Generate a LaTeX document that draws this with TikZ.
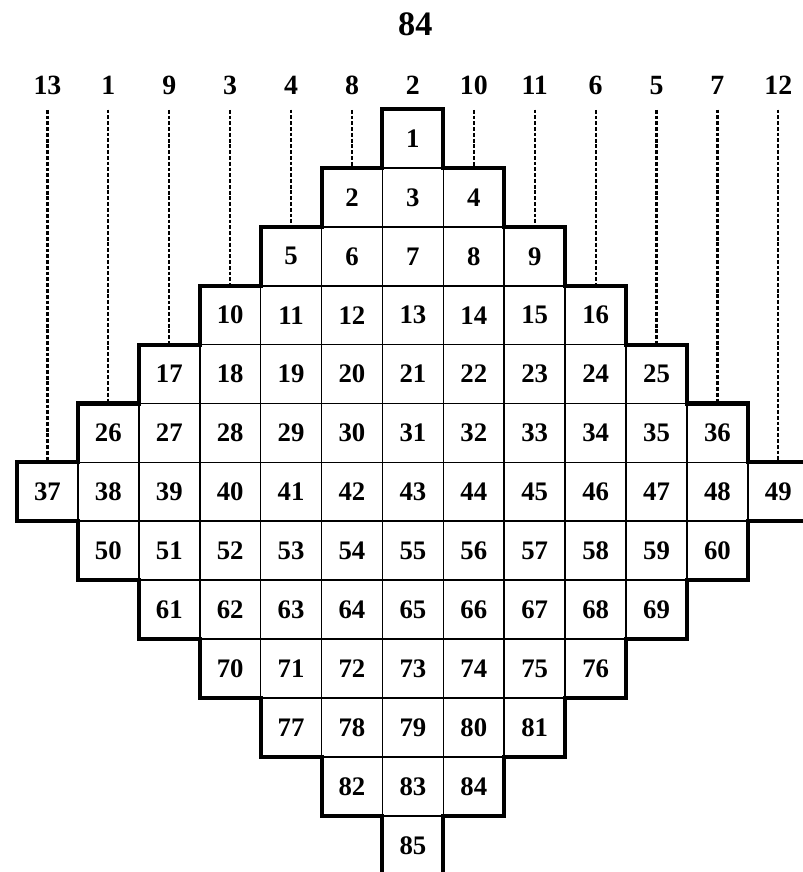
\documentclass[tikz,border=0pt]{standalone}
\usepackage{fontspec}
\setmainfont{Liberation Serif}
\usetikzlibrary{positioning}

\tikzset{
  cell/.style={draw, line width=0.8pt, inner sep=0pt, minimum width=1cm, minimum height=0.967cm, font=\fontsize{12.5}{14}\selectfont\bfseries},
  lab/.style={inner sep=0pt, anchor=base, font=\fontsize{13}{15}\selectfont\bfseries},
  pagenum/.style={inner sep=0pt, anchor=base, font=\fontsize{16}{18}\selectfont\bfseries},
  rim/.style={line width=1.9pt},
  guide/.style={line width=1pt, dash pattern=on 1.8pt off 0.9pt, shorten <=6.8pt}
}

\begin{document}
\begin{tikzpicture}[x=1cm, y=0.967cm]
\useasboundingbox (-0.279,1.851) rectangle (12.89,-12.954);
\node[pagenum] (title) at (6.54,1.24) {84};
% column numbers
\node[lab] (col0) at (0.5,0.246) {13};
\node[lab] (col1) at (1.5,0.246) {1};
\node[lab] (col2) at (2.5,0.246) {9};
\node[lab] (col3) at (3.5,0.246) {3};
\node[lab] (col4) at (4.5,0.246) {4};
\node[lab] (col5) at (5.5,0.246) {8};
\node[lab] (col6) at (6.5,0.246) {2};
\node[lab] (col7) at (7.5,0.246) {10};
\node[lab] (col8) at (8.5,0.246) {11};
\node[lab] (col9) at (9.5,0.246) {6};
\node[lab] (col10) at (10.5,0.246) {5};
\node[lab] (col11) at (11.5,0.246) {7};
\node[lab] (col12) at (12.5,0.246) {12};
% squares
\node[cell] (c1) at (6.5,-0.5) {1};
\node[cell] (c2) at (5.5,-1.5) {2};
\node[cell] (c3) at (6.5,-1.5) {3};
\node[cell] (c4) at (7.5,-1.5) {4};
\node[cell] (c5) at (4.5,-2.5) {5};
\node[cell] (c6) at (5.5,-2.5) {6};
\node[cell] (c7) at (6.5,-2.5) {7};
\node[cell] (c8) at (7.5,-2.5) {8};
\node[cell] (c9) at (8.5,-2.5) {9};
\node[cell] (c10) at (3.5,-3.5) {10};
\node[cell] (c11) at (4.5,-3.5) {11};
\node[cell] (c12) at (5.5,-3.5) {12};
\node[cell] (c13) at (6.5,-3.5) {13};
\node[cell] (c14) at (7.5,-3.5) {14};
\node[cell] (c15) at (8.5,-3.5) {15};
\node[cell] (c16) at (9.5,-3.5) {16};
\node[cell] (c17) at (2.5,-4.5) {17};
\node[cell] (c18) at (3.5,-4.5) {18};
\node[cell] (c19) at (4.5,-4.5) {19};
\node[cell] (c20) at (5.5,-4.5) {20};
\node[cell] (c21) at (6.5,-4.5) {21};
\node[cell] (c22) at (7.5,-4.5) {22};
\node[cell] (c23) at (8.5,-4.5) {23};
\node[cell] (c24) at (9.5,-4.5) {24};
\node[cell] (c25) at (10.5,-4.5) {25};
\node[cell] (c26) at (1.5,-5.5) {26};
\node[cell] (c27) at (2.5,-5.5) {27};
\node[cell] (c28) at (3.5,-5.5) {28};
\node[cell] (c29) at (4.5,-5.5) {29};
\node[cell] (c30) at (5.5,-5.5) {30};
\node[cell] (c31) at (6.5,-5.5) {31};
\node[cell] (c32) at (7.5,-5.5) {32};
\node[cell] (c33) at (8.5,-5.5) {33};
\node[cell] (c34) at (9.5,-5.5) {34};
\node[cell] (c35) at (10.5,-5.5) {35};
\node[cell] (c36) at (11.5,-5.5) {36};
\node[cell] (c37) at (0.5,-6.5) {37};
\node[cell] (c38) at (1.5,-6.5) {38};
\node[cell] (c39) at (2.5,-6.5) {39};
\node[cell] (c40) at (3.5,-6.5) {40};
\node[cell] (c41) at (4.5,-6.5) {41};
\node[cell] (c42) at (5.5,-6.5) {42};
\node[cell] (c43) at (6.5,-6.5) {43};
\node[cell] (c44) at (7.5,-6.5) {44};
\node[cell] (c45) at (8.5,-6.5) {45};
\node[cell] (c46) at (9.5,-6.5) {46};
\node[cell] (c47) at (10.5,-6.5) {47};
\node[cell] (c48) at (11.5,-6.5) {48};
\node[cell] (c49) at (12.5,-6.5) {49};
\node[cell] (c50) at (1.5,-7.5) {50};
\node[cell] (c51) at (2.5,-7.5) {51};
\node[cell] (c52) at (3.5,-7.5) {52};
\node[cell] (c53) at (4.5,-7.5) {53};
\node[cell] (c54) at (5.5,-7.5) {54};
\node[cell] (c55) at (6.5,-7.5) {55};
\node[cell] (c56) at (7.5,-7.5) {56};
\node[cell] (c57) at (8.5,-7.5) {57};
\node[cell] (c58) at (9.5,-7.5) {58};
\node[cell] (c59) at (10.5,-7.5) {59};
\node[cell] (c60) at (11.5,-7.5) {60};
\node[cell] (c61) at (2.5,-8.5) {61};
\node[cell] (c62) at (3.5,-8.5) {62};
\node[cell] (c63) at (4.5,-8.5) {63};
\node[cell] (c64) at (5.5,-8.5) {64};
\node[cell] (c65) at (6.5,-8.5) {65};
\node[cell] (c66) at (7.5,-8.5) {66};
\node[cell] (c67) at (8.5,-8.5) {67};
\node[cell] (c68) at (9.5,-8.5) {68};
\node[cell] (c69) at (10.5,-8.5) {69};
\node[cell] (c70) at (3.5,-9.5) {70};
\node[cell] (c71) at (4.5,-9.5) {71};
\node[cell] (c72) at (5.5,-9.5) {72};
\node[cell] (c73) at (6.5,-9.5) {73};
\node[cell] (c74) at (7.5,-9.5) {74};
\node[cell] (c75) at (8.5,-9.5) {75};
\node[cell] (c76) at (9.5,-9.5) {76};
\node[cell] (c77) at (4.5,-10.5) {77};
\node[cell] (c78) at (5.5,-10.5) {78};
\node[cell] (c79) at (6.5,-10.5) {79};
\node[cell] (c80) at (7.5,-10.5) {80};
\node[cell] (c81) at (8.5,-10.5) {81};
\node[cell] (c82) at (5.5,-11.5) {82};
\node[cell] (c83) at (6.5,-11.5) {83};
\node[cell] (c84) at (7.5,-11.5) {84};
\node[cell] (c85) at (6.5,-12.5) {85};
% heavy outline, running off the page at the right and at the foot
\draw[rim] (6,-13.3) -- (6,-12) -- (5,-12) -- (5,-11) -- (4,-11) -- (4,-10) -- (3,-10) -- (3,-9) -- (2,-9) -- (2,-8) -- (1,-8) -- (1,-7) -- (0,-7) -- (0,-6) -- (1,-6) -- (1,-5) -- (2,-5) -- (2,-4) -- (3,-4) -- (3,-3) -- (4,-3) -- (4,-2) -- (5,-2) -- (5,-1) -- (6,-1) -- (6,0) -- (7,0) -- (7,-1) -- (8,-1) -- (8,-2) -- (9,-2) -- (9,-3) -- (10,-3) -- (10,-4) -- (11,-4) -- (11,-5) -- (12,-5) -- (12,-6) -- (13.3,-6);
\draw[rim] (13.3,-7) -- (12,-7) -- (12,-8) -- (11,-8) -- (11,-9) -- (10,-9) -- (10,-10) -- (9,-10) -- (9,-11) -- (8,-11) -- (8,-12) -- (7,-12) -- (7,-13.3);
% dashed leaders
\draw[guide] (col0.south) -- (c37.north);
\draw[guide] (col1.south) -- (c26.north);
\draw[guide] (col2.south) -- (c17.north);
\draw[guide] (col3.south) -- (c10.north);
\draw[guide] (col4.south) -- (c5.north);
\draw[guide] (col5.south) -- (c2.north);
\draw[guide] (col7.south) -- (c4.north);
\draw[guide] (col8.south) -- (c9.north);
\draw[guide] (col9.south) -- (c16.north);
\draw[guide] (col10.south) -- (c25.north);
\draw[guide] (col11.south) -- (c36.north);
\draw[guide] (col12.south) -- (c49.north);
\end{tikzpicture}
\end{document}
